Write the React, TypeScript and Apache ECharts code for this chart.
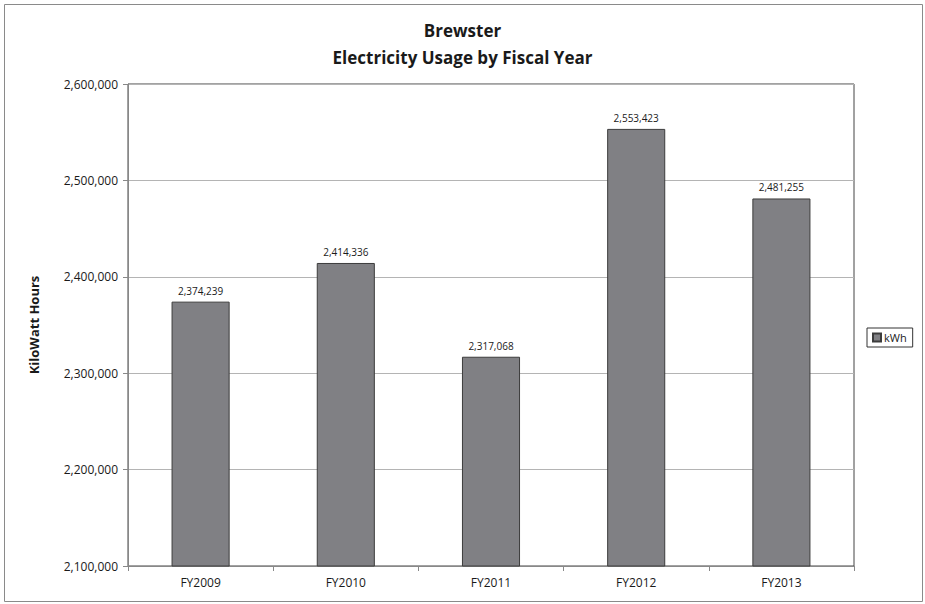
import React, { useEffect, useRef } from "react";
import * as echarts from "echarts";

const categories = ["FY2009", "FY2010", "FY2011", "FY2012", "FY2013"];
const kwhValues = [2374239, 2414336, 2317068, 2553423, 2481255];
const seriesName = "kWh";
const titleLines = ["Brewster", "Electricity Usage by Fiscal Year"];
const yAxisName = "KiloWatt Hours";

const FONT = "'Open Sans', 'Noto Sans', sans-serif";

export default function App() {
  const ref = useRef<HTMLDivElement>(null);
  useEffect(() => {
    document.body.style.margin = "0";
    const chart = echarts.init(ref.current!, null, { renderer: "svg" });
    const fmt = (v: number) => v.toLocaleString("en-US");
    chart.setOption({
      animation: false,
      backgroundColor: "#ffffff",
      textStyle: { fontFamily: FONT },
      title: {
        text: titleLines.join("\n"),
        left: "center",
        top: 12,
        textStyle: { fontFamily: FONT, fontSize: 17, fontWeight: "bold", color: "#1a1a1a", lineHeight: 27 },
      },
      legend: {
        data: [seriesName],
        left: 867,
        top: 328,
        orient: "vertical",
        icon: "rect",
        itemWidth: 8,
        itemHeight: 8,
        itemGap: 4,
        padding: [4, 6, 4, 5],
        borderColor: "#333",
        borderWidth: 1,
        textStyle: { fontFamily: FONT, fontSize: 11, color: "#1a1a1a", padding: [0, 0, 0, -2] },
      },
      grid: {
        left: 128,
        top: 84,
        right: 71,
        bottom: 38,
        show: true,
        borderColor: "#444",
        borderWidth: 1,
        backgroundColor: "transparent",
      },
      graphic: [
        {
          type: "rect",
          shape: { x: 4.5, y: 4.5, width: 918, height: 597 },
          style: { fill: "none", stroke: "#8a8a8a", lineWidth: 1 },
          silent: true,
        },
      ],
      xAxis: {
        type: "category",
        data: categories,
        axisLine: { show: true, lineStyle: { color: "#888" } },
        axisTick: { show: true, alignWithLabel: false, length: 5, lineStyle: { color: "#888" } },
        axisLabel: { fontFamily: FONT, fontSize: 12, color: "#1a1a1a", margin: 10 },
      },
      yAxis: {
        type: "value",
        min: 2100000,
        max: 2600000,
        interval: 100000,
        name: yAxisName,
        nameLocation: "middle",
        nameGap: 88,
        nameTextStyle: { fontFamily: FONT, fontSize: 13, fontWeight: "bold", color: "#1a1a1a" },
        axisLine: { show: true, lineStyle: { color: "#888" } },
        axisTick: { show: true, length: 5, inside: false, lineStyle: { color: "#888" } },
        axisLabel: { fontFamily: FONT, fontSize: 12, color: "#1a1a1a", margin: 10, formatter: (v: number) => fmt(v) },
        splitLine: { show: true, lineStyle: { color: "#b4b4b4", width: 1 } },
      },
      series: [
        {
          name: seriesName,
          type: "bar",
          data: kwhValues,
          barWidth: "40%",
          itemStyle: { color: "#808084", borderColor: "#3c3c3c", borderWidth: 1 },
          label: {
            show: true,
            position: "top",
            distance: 6,
            fontFamily: FONT,
            fontSize: 10,
            color: "#1a1a1a",
            formatter: (p: any) => fmt(p.value),
          },
        },
      ],
    });
    return () => chart.dispose();
  }, []);
  return <div ref={ref} style={{ width: 925, height: 604 }} />;
}
